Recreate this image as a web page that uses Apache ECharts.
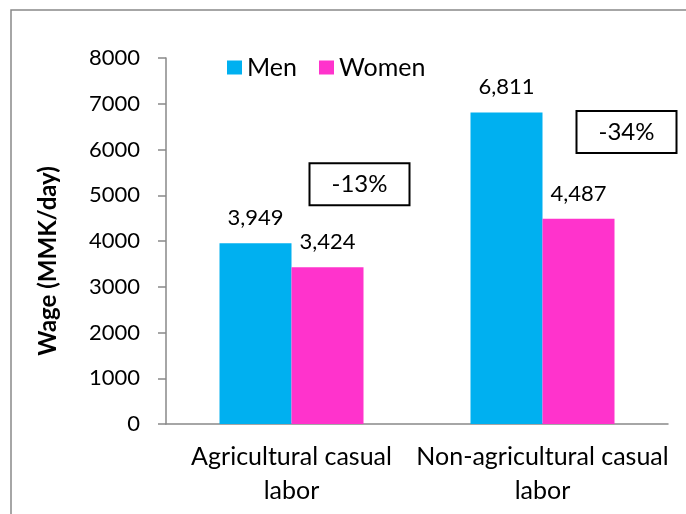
<!DOCTYPE html>
<html>
<head>
<meta charset="utf-8">
<script src="https://cdn.jsdelivr.net/npm/echarts@6/dist/echarts.min.js"></script>
<style>
html,body{margin:0;padding:0;background:#fff;}
#c{width:686px;height:514px;}
</style>
</head>
<body>
<div id="c"></div>
<script>
const categories = ['Agricultural casual\nlabor', 'Non-agricultural casual\nlabor'];
const menWages = [3949, 6811];
const womenWages = [3424, 4487];
const gapLabels = ['-13%', '-34%'];
const gapBoxValues = [5240, 6380];
const yTicks = [0, 1000, 2000, 3000, 4000, 5000, 6000, 7000, 8000];

const FONT = 'Lato, "Open Sans", sans-serif';
const chart = echarts.init(document.getElementById('c'), null, {renderer: 'canvas'});
const fmt = v => Number(v).toLocaleString('en-US');

chart.setOption({
  animation: false,
  backgroundColor: '#fff',
  textStyle: {fontFamily: FONT},
  graphic: [{
    type: 'rect',
    shape: {x: 11, y: 10, width: 800, height: 700},
    style: {fill: 'none', stroke: '#898989', lineWidth: 1.5},
    silent: true
  }],
  legend: {
    left: 222, top: 50,
    icon: 'rect', itemWidth: 15, itemHeight: 14, itemGap: 22,
    textStyle: {fontSize: 25, color: '#000', fontFamily: FONT},
    data: ['Men', 'Women']
  },
  grid: {left: 166, right: 18, top: 58, bottom: 90, containLabel: false},
  xAxis: {
    type: 'category',
    data: categories,
    axisLine: {lineStyle: {color: '#898989', width: 1.5}},
    axisTick: {show: false},
    axisLabel: {fontSize: 25, color: '#000', lineHeight: 34, margin: 16, fontFamily: FONT, interval: 0}
  },
  yAxis: {
    type: 'value',
    min: yTicks[0], max: yTicks[yTicks.length - 1], interval: 1000,
    name: 'Wage (MMK/day)',
    nameLocation: 'middle',
    nameGap: 106,
    nameTextStyle: {fontSize: 24, fontWeight: 'bold', color: '#000', fontFamily: FONT, padding: [0, 40, 0, 0]},
    splitLine: {show: false},
    axisLine: {show: true, lineStyle: {color: '#898989', width: 1.5}},
    axisTick: {show: true, length: 8, lineStyle: {color: '#898989', width: 1.5}},
    axisLabel: {fontSize: 22, color: '#000', margin: 26, fontFamily: FONT, formatter: v => String(v)}
  },
  series: [{
    name: 'Men', type: 'bar', data: menWages,
    barWidth: 72, barGap: '0%',
    itemStyle: {color: '#00B0F0'},
    label: {show: true, position: 'top', distance: 14, fontSize: 22, color: '#000', fontFamily: FONT, formatter: p => fmt(p.value)}
  }, {
    name: 'Women', type: 'bar', data: womenWages,
    barWidth: 72, barGap: '0%',
    itemStyle: {color: '#FF33CC'},
    label: {show: true, position: 'top', distance: 14, fontSize: 22, color: '#000', fontFamily: FONT, formatter: p => fmt(p.value)},
    markPoint: {
      symbol: 'circle',
      symbolSize: 1,
      itemStyle: {color: 'rgba(0,0,0,0)'},
      label: {
        show: true, position: 'inside', fontSize: 24, color: '#000', fontFamily: FONT,
        width: 98, height: 32, lineHeight: 32, align: 'center', verticalAlign: 'middle',
        padding: [7, 0, 1, 0],
        backgroundColor: '#fff', borderColor: '#000', borderWidth: 2,
        formatter: p => p.data.txt
      },
      data: [
        {coord: [0, gapBoxValues[0]], symbolOffset: [32, 0], txt: gapLabels[0]},
        {coord: [1, gapBoxValues[1]], symbolOffset: [48, 0], txt: gapLabels[1]}
      ]
    }
  }]
});
</script>
</body>
</html>
